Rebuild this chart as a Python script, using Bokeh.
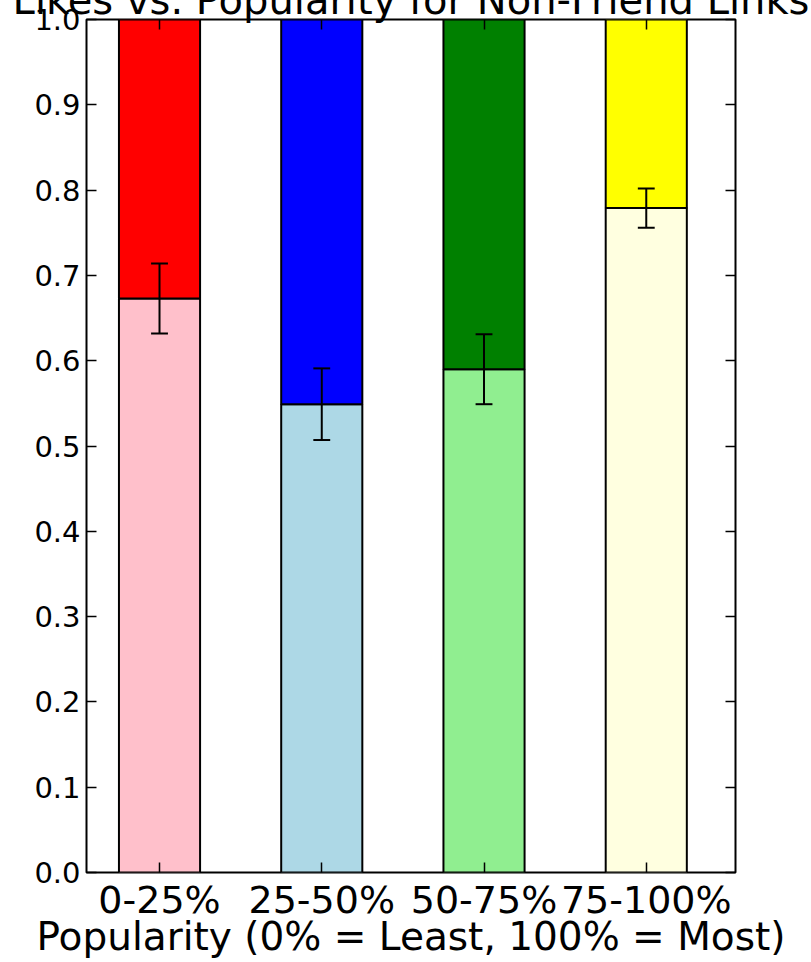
from bokeh.plotting import figure
from bokeh.models import Range1d, FixedTicker, LinearAxis, Title, PrintfTickFormatter
from bokeh.embed import file_html
from bokeh.resources import INLINE

# ---- data ----
categories = ["0-25%", "25-50%", "50-75%", "75-100%"]
likes = [0.673, 0.549, 0.590, 0.779]
errors = [0.041, 0.042, 0.041, 0.023]
lower_colors = ["pink", "lightblue", "lightgreen", "lightyellow"]
upper_colors = ["red", "blue", "green", "yellow"]
y_ticks = [0.0, 0.1, 0.2, 0.3, 0.4, 0.5, 0.6, 0.7, 0.8, 0.9, 1.0]
title_text = "Likes vs. Popularity for Non-Friend Links"
x_label_text = "Popularity (0% = Least, 100% = Most)"

FONT = "DejaVu Sans"
xs = list(range(len(categories)))
lo = [v - e for v, e in zip(likes, errors)]
hi = [v + e for v, e in zip(likes, errors)]
cap = 0.052

p = figure(width=811, height=962,
           x_range=Range1d(-0.45, 3.55), y_range=Range1d(0, 1.0),
           output_backend="svg", toolbar_location=None,
           min_border_left=86, min_border_right=76,
           min_border_top=18, min_border_bottom=90)
p.background_fill_color = "white"
p.border_fill_color = "white"
p.outline_line_color = "black"
p.outline_line_width = 2
p.grid.grid_line_color = None

p.vbar(x=xs, width=0.5, bottom=0, top=likes, fill_color=lower_colors,
       line_color="black", line_width=2)
p.vbar(x=xs, width=0.5, bottom=likes, top=1.0, fill_color=upper_colors,
       line_color="black", line_width=2)

p.segment(x0=xs, y0=lo, x1=xs, y1=hi, line_color="black", line_width=2)
p.segment(x0=[x - cap for x in xs], y0=hi, x1=[x + cap for x in xs], y1=hi,
          line_color="black", line_width=2)
p.segment(x0=[x - cap for x in xs], y0=lo, x1=[x + cap for x in xs], y1=lo,
          line_color="black", line_width=2)

def style(ax):
    ax.axis_line_color = None
    ax.major_tick_in = 10
    ax.major_tick_out = 0
    ax.minor_tick_line_color = None
    ax.major_tick_line_color = "black"
    ax.major_tick_line_width = 1.5
    ax.major_label_text_font = FONT
    ax.major_label_text_color = "black"

# x axis (bottom)
xa = p.xaxis[0]
style(xa)
xa.ticker = FixedTicker(ticks=xs)
xa.major_label_overrides = {i: c for i, c in zip(xs, categories)}
xa.major_label_text_font_size = "38px"
xa.major_label_standoff = 5
xa.axis_label = x_label_text
xa.axis_label_text_font = FONT
xa.axis_label_text_font_size = "39px"
xa.axis_label_text_font_style = "normal"
xa.axis_label_text_color = "black"
xa.axis_label_standoff = -11

# y axis (left)
ya = p.yaxis[0]
style(ya)
ya.ticker = FixedTicker(ticks=y_ticks)
ya.formatter = PrintfTickFormatter(format="%.1f")
ya.major_label_text_font_size = "29px"
ya.major_label_standoff = 6

# right axis (ticks only)
ra = LinearAxis(ticker=FixedTicker(ticks=y_ticks))
style(ra)
ra.major_label_text_font_size = "1px"
ra.major_label_text_color = None
p.add_layout(ra, "right")

# top axis (ticks only; its blank labels give room for the title)
ta = LinearAxis(ticker=FixedTicker(ticks=xs))
style(ta)
ta.major_label_overrides = {i: " " for i in xs}
ta.major_label_text_font_size = "1px"
ta.major_label_standoff = 15
p.add_layout(ta, "above")

title = Title(text=title_text, align="center", vertical_align="top",
              standoff=-48, text_font=FONT, text_font_size="40px",
              text_font_style="normal", text_color="black")
p.add_layout(title, "above")

open("out.html", "w").write(file_html(p, INLINE))
